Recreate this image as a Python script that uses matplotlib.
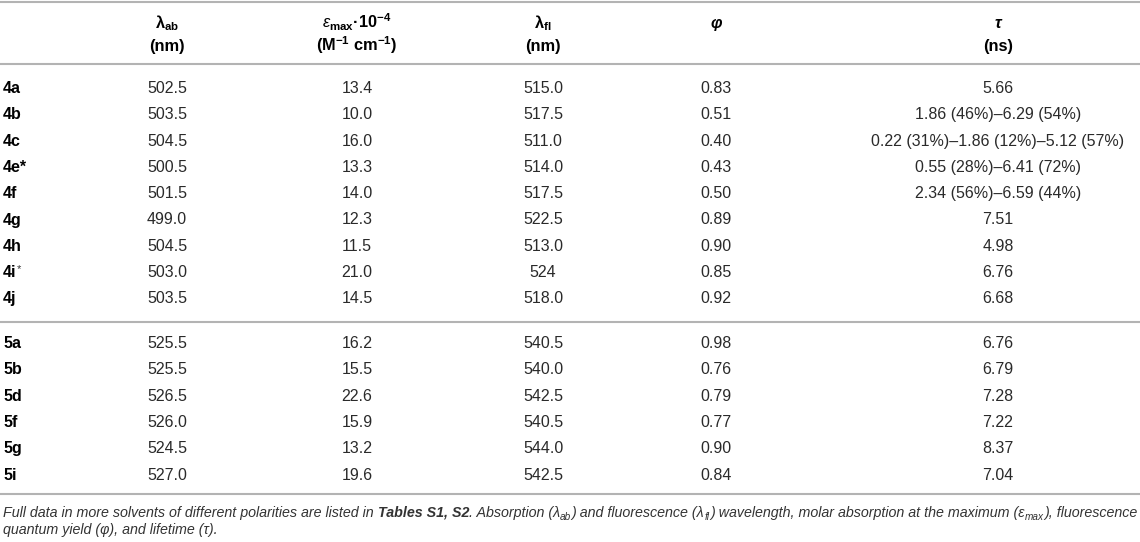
import matplotlib
matplotlib.use('Agg')
import matplotlib.pyplot as plt

# ---------------- data ----------------
compounds = ['4a', '4b', '4c', '4e*', '4f', '4g', '4h', '4i', '4j',
             '5a', '5b', '5d', '5f', '5g', '5i']
sup_marks = ['', '', '', '', '', '', '', '*', '',
             '', '', '', '', '', '']
group_of_row = [0, 0, 0, 0, 0, 0, 0, 0, 0, 1, 1, 1, 1, 1, 1]
lambda_ab = ['502.5', '503.5', '504.5', '500.5', '501.5', '499.0', '504.5', '503.0', '503.5',
             '525.5', '525.5', '526.5', '526.0', '524.5', '527.0']
eps_max = ['13.4', '10.0', '16.0', '13.3', '14.0', '12.3', '11.5', '21.0', '14.5',
           '16.2', '15.5', '22.6', '15.9', '13.2', '19.6']
lambda_fl = ['515.0', '517.5', '511.0', '514.0', '517.5', '522.5', '513.0', '524', '518.0',
             '540.5', '540.0', '542.5', '540.5', '544.0', '542.5']
phi = ['0.83', '0.51', '0.40', '0.43', '0.50', '0.89', '0.90', '0.85', '0.92',
       '0.98', '0.76', '0.79', '0.77', '0.90', '0.84']
tau = ['5.66', '1.86 (46%)–6.29 (54%)', '0.22 (31%)–1.86 (12%)–5.12 (57%)',
       '0.55 (28%)–6.41 (72%)', '2.34 (56%)–6.59 (44%)', '7.51', '4.98', '6.76', '6.68',
       '6.76', '6.79', '7.28', '7.22', '8.37', '7.04']
columns = [lambda_ab, eps_max, lambda_fl, phi, tau]

header_line1 = [r'$\mathbf{λ}_{\mathbf{ab}}$',
                r'$\mathit{ε}_{\mathbf{max}}\mathbf{·10}^{\mathbf{−4}}$',
                r'$\mathbf{λ}_{\mathbf{fl}}$',
                'φ', 'τ']
header_line2 = ['(nm)', r'$\mathbf{(M}^{\mathbf{−1}}\mathbf{\ cm}^{\mathbf{−1}}\mathbf{)}$',
                '(nm)', '', '(ns)']

foot_line1 = [('Full data in more solvents of different polarities are listed in', 'it', False),
              ('Tables S1, S2', 'bi', True),
              ('. Absorption (λ', 'it', False),
              ('ab', 'sub', False),
              (') and fluorescence (λ', 'it', False),
              ('fl', 'sub', False),
              (') wavelength, molar absorption at the maximum (ε', 'it', False),
              ('max', 'sub', False),
              ('), fluorescence', 'it', False)]
foot_line2 = [('quantum yield (φ), and lifetime (τ).', 'it', False)]

# ---------------- style / layout ----------------
plt.rcParams['font.family'] = ['Liberation Sans', 'DejaVu Sans']
plt.rcParams['mathtext.fontset'] = 'custom'
plt.rcParams['mathtext.rm'] = 'Liberation Sans'
plt.rcParams['mathtext.it'] = 'Liberation Sans:italic'
plt.rcParams['mathtext.bf'] = 'Liberation Sans:bold'

W, H = 1140, 542
fig = plt.figure(figsize=(W / 100, H / 100), dpi=100)
ax = fig.add_axes([0, 0, 1, 1])
ax.set_xlim(0, W)
ax.set_ylim(H, 0)
ax.axis('off')
renderer = fig.canvas.get_renderer()

col_x = [167, 357, 543, 716, 998]
label_x = 3
rule_color = '#b3b3b3'
data_color = '#2a2a2a'
data_fs = 11.5
head_fs = 11.8

def hrule(y):
    ax.plot([0, W], [y, y], color=rule_color, lw=1.5, solid_capstyle='butt')

for y in (2, 64, 322, 494):
    hrule(y)

# headers
for cx, h1, h2 in zip(col_x, header_line1, header_line2):
    kw = dict(ha='center', va='baseline', fontsize=head_fs, color='black', fontweight='bold')
    if h1 in ('φ', 'τ'):
        kw['fontstyle'] = 'italic'
    ax.text(cx, 28, h1, **kw)
    if h2:
        ax.text(cx, 50.5, h2, ha='center', va='baseline', fontsize=head_fs,
                color='black', fontweight='bold')

# rows
group_start = [87, 342]
row_step = 26.3
counter = [0, 0]
for i, name in enumerate(compounds):
    g = group_of_row[i]
    yc = group_start[g] + row_step * counter[g]
    counter[g] += 1
    yb = yc + 6
    t = ax.text(label_x, yb, name, ha='left', va='baseline', fontsize=data_fs,
                fontweight='bold', color='black')
    if sup_marks[i]:
        bb = t.get_window_extent(renderer)
        ax.text(label_x + bb.width + 0.5, yb - 5, sup_marks[i], ha='left', va='baseline',
                fontsize=data_fs * 0.7, color='#333333')
    for cx, col in zip(col_x, columns):
        ax.text(cx, yb, col[i], ha='center', va='baseline', fontsize=data_fs, color=data_color)

# footnote
def seg_kw(kind, fs):
    if kind == 'it':
        return dict(fontsize=fs, fontstyle='italic')
    if kind == 'bi':
        return dict(fontsize=fs, fontstyle='italic', fontweight='bold')
    return dict(fontsize=fs * 0.7, fontstyle='italic')

def width_of(txt, **kw):
    t = ax.text(0, 0, txt, **kw)
    w = t.get_window_extent(renderer).width
    t.remove()
    return w

def line_width(segs, fs):
    sp = width_of('a a', **seg_kw('it', fs)) - width_of('aa', **seg_kw('it', fs))
    total = 0
    for txt, kind, space in segs:
        if space:
            total += sp
        total += width_of(txt, **seg_kw(kind, fs))
    return total

def draw_line(segs, x, yb, fs):
    sp = width_of('a a', **seg_kw('it', fs)) - width_of('aa', **seg_kw('it', fs))
    for txt, kind, space in segs:
        if space:
            x += sp
        dy = 3.0 if kind == 'sub' else 0
        t = ax.text(x, yb + dy, txt, ha='left', va='baseline', color='#333333',
                    **seg_kw(kind, fs))
        x += t.get_window_extent(renderer).width + (0.5 if kind == 'sub' else 0)

fs0 = 10.0
target = W - 6
fs = fs0 * target / line_width(foot_line1, fs0)
fs = fs * target / line_width(foot_line1, fs)
draw_line(foot_line1, 3, 516.5, fs)
draw_line(foot_line2, 3, 534, fs)

fig.savefig('out.png', dpi=100)
